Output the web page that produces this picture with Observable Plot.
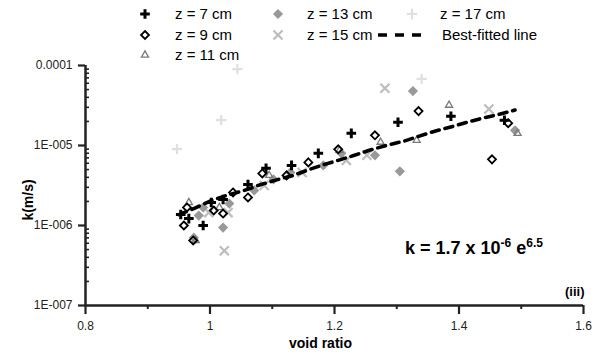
<!DOCTYPE html>
<html><head><meta charset="utf-8">
<script src="https://cdn.jsdelivr.net/npm/d3@7"></script>
<script src="https://cdn.jsdelivr.net/npm/@observablehq/plot@0.6"></script>
<style>
body{margin:0;background:#fff;font-family:"Liberation Sans",Arial,sans-serif;}
#wrap{position:relative;width:599px;height:355px;overflow:hidden}
.abs{position:absolute;white-space:nowrap;color:#000}
.leg{position:absolute;font-size:15px;line-height:15px;white-space:nowrap}
</style></head><body><div id="wrap"></div>
<script>
// ---- data (void ratio e, permeability k in m/s) ----
const seriesNames = ["z = 7 cm","z = 9 cm","z = 11 cm","z = 13 cm","z = 15 cm","z = 17 cm"];
const z7_e  = [0.953,0.966,0.989,1.002,1.021,1.061,1.090,1.131,1.174,1.227,1.302,1.387,1.473];
const z7_k  = [1.37e-6,1.22e-6,1.0e-6,1.94e-6,2.11e-6,3.26e-6,5.18e-6,5.64e-6,7.98e-6,1.42e-5,1.95e-5,2.32e-5,2.07e-5];
const z9_e  = [0.958,0.973,0.963,1.006,1.021,1.037,1.061,1.084,1.123,1.158,1.206,1.265,1.335,1.453,1.479];
const z9_k  = [1.0e-6,6.5e-7,1.68e-6,1.54e-6,1.41e-6,2.59e-6,2.24e-6,4.48e-6,4.23e-6,6.15e-6,8.96e-6,1.34e-5,2.69e-5,6.71e-6,1.9e-5];
const z11_e = [0.966,0.977,1.015,1.095,1.208,1.274,1.332,1.384,1.494];
const z11_k = [1.94e-6,6.5e-7,1.68e-6,4.23e-6,8.71e-6,1.10e-5,1.16e-5,3.19e-5,1.42e-5];
const z13_e = [0.974,0.982,0.989,1.021,1.031,1.071,1.102,1.129,1.182,1.211,1.265,1.305,1.326,1.490];
const z13_k = [7.05e-7,1.33e-6,1.68e-6,9.41e-7,1.88e-6,2.74e-6,3.77e-6,4.61e-6,5.64e-6,7.98e-6,7.54e-6,4.75e-6,4.79e-5,1.55e-5];
const z15_e = [0.998,1.023,1.029,1.087,1.148,1.219,1.252,1.281,1.448];
const z15_k = [1.45e-6,4.84e-7,1.45e-6,3.17e-6,4.61e-6,6.52e-6,7.54e-6,5.2e-5,2.85e-5];
const z17_e = [0.947,1.018,1.044,1.340];
const z17_k = [9.0e-6,2.07e-5,9.0e-5,6.8e-5];
const fit_e = [0.950,0.974,1.002,1.026,1.055,1.082,1.110,1.134,1.160,1.184,1.206,1.232,1.256,1.284,1.311,1.335,1.361,1.385,1.413,1.437,1.465,1.490];
const fit_k = [1.37e-6,1.63e-6,2.05e-6,2.37e-6,2.74e-6,3.26e-6,3.77e-6,4.23e-6,5.03e-6,5.81e-6,6.52e-6,7.54e-6,8.71e-6,1.006e-5,1.13e-5,1.30e-5,1.51e-5,1.69e-5,1.95e-5,2.19e-5,2.46e-5,2.77e-5];
const fitName = "Best-fitted line";
const xTicks = [0.8,1,1.2,1.4,1.6];
const xMinorTicks = [0.9,1.1,1.3,1.5];
const yTicks = [1e-7,1e-6,1e-5,1e-4];
const yTickLabels = ["1E-007","1E-006","1E-005","0.0001"];
const xLabel = "void ratio";
const yLabel = "k(m/s)";
const panelLabel = "(iii)";

// ---- build ----
const pts = (E,K) => E.map((e,i)=>({e, k:K[i]}));
const fit = pts(fit_e, fit_k);
const yMinor = [];
yTicks.slice(0,-1).forEach(d => { for (let m=2;m<=9;m++) yMinor.push(d*m); });

const styles = [
  {symbol:"plus",    stroke:"#000",    fill:"none", r:3.2, sw:3},
  {symbol:"diamond2",stroke:"#000",    fill:"none", r:3.6, sw:1.8},
  {symbol:"triangle2",stroke:"#7a7a7a",fill:"none", r:3.4, sw:1.3},
  {symbol:"diamond2",stroke:"none",    fill:"#999", r:4.6, sw:0},
  {symbol:"times",   stroke:"#bdbdbd", fill:"none", r:4.2, sw:2.2},
  {symbol:"plus",    stroke:"#e0e0e0", fill:"none", r:3.4, sw:2.2}
];
const seriesData = [pts(z7_e,z7_k),pts(z9_e,z9_k),pts(z11_e,z11_k),pts(z13_e,z13_k),pts(z15_e,z15_k),pts(z17_e,z17_k)];
const dotMark = i => Plot.dot(seriesData[i], {x:"e", y:"k", symbol:()=>styles[i].symbol, r:styles[i].r,
  stroke:styles[i].stroke, fill:styles[i].fill, strokeWidth:styles[i].sw});

const plot = Plot.plot({
  width:599, height:355, marginLeft:85, marginRight:16, marginTop:65, marginBottom:50,
  style:{fontFamily:"'Liberation Sans', Arial, sans-serif", fontSize:"12px", color:"#222", background:"transparent", overflow:"visible"},
  x:{domain:[0.8,1.6]},
  y:{type:"log", domain:[1e-7,1e-4]},
  symbol:{type:"identity"},
  marks:[
    Plot.axisX({ticks:xMinorTicks, tickSize:4, tickFormat:()=>"", strokeWidth:2, label:null}),
    Plot.axisX({ticks:xTicks, tickSize:9, tickPadding:7, tickFormat:d=>String(d), strokeWidth:2.2, label:null}),
    Plot.axisY({ticks:yMinor, tickSize:-4, tickFormat:()=>"", strokeWidth:1.6, label:null}),
    Plot.axisY({ticks:yTicks, tickSize:7, tickPadding:6, tickFormat:d=>yTickLabels[yTicks.indexOf(d)], strokeWidth:2.2, label:null}),
    Plot.ruleX([0.8], {strokeWidth:2.5}),
    Plot.ruleY([1e-7], {strokeWidth:2.5}),
    dotMark(5), dotMark(4), dotMark(3), dotMark(2),
    Plot.line(fit, {x:"e", y:"k", stroke:"#000", strokeWidth:3.6, strokeDasharray:"8,6"}),
    dotMark(1), dotMark(0)
  ]
});
const wrap = document.getElementById("wrap");
wrap.appendChild(plot);

function addText(html, css){ const d=document.createElement("div"); d.className="abs"; d.innerHTML=html; Object.assign(d.style, css); wrap.appendChild(d); return d; }
addText(xLabel, {left:"289px", top:"335px", fontSize:"14px", fontWeight:"bold"});
addText(yLabel, {left:"28px", top:"200px", fontSize:"14px", fontWeight:"bold", transform:"translate(-50%,-50%) rotate(-90deg)"});
addText(panelLabel, {left:"565px", top:"284px", fontSize:"13px", fontWeight:"bold"});
addText('k = 1.7 x 10<sup style="font-size:12px;vertical-align:7px">-6</sup> e<sup style="font-size:12px;vertical-align:7px">6.5</sup>',
  {left:"405px", top:"236px", fontSize:"18px", fontWeight:"bold"});

// legend
function legendSymbol(i, cx, cy){
  const s = styles[i];
  const sym = {plus:d3.symbolPlus, diamond2:d3.symbolDiamond2, triangle2:d3.symbolTriangle2, times:d3.symbolTimes}[s.symbol];
  const path = d3.symbol(sym, s.r*s.r*Math.PI)();
  const svg = d3.create("svg").attr("width",20).attr("height",20)
    .style("position","absolute").style("left",(cx-10)+"px").style("top",(cy-10)+"px");
  svg.append("path").attr("d",path).attr("transform","translate(10,10)")
    .attr("fill",s.fill).attr("stroke",s.stroke).attr("stroke-width",s.sw);
  wrap.appendChild(svg.node());
}
const legPos = [[145,14,175],[145,35,175],[145,55,175],[278,14,307],[278,35,307],[412,14,440]];
legPos.forEach(([sx,sy,tx],i)=>{
  legendSymbol(i, sx, sy);
  const d=document.createElement("div"); d.className="leg"; d.textContent=seriesNames[i];
  d.style.left=tx+"px"; d.style.top=(sy-8)+"px"; wrap.appendChild(d);
});
{
  const svg = d3.create("svg").attr("width",52).attr("height",10)
    .style("position","absolute").style("left","377px").style("top","30px");
  svg.append("line").attr("x1",1).attr("x2",51).attr("y1",5).attr("y2",5)
    .attr("stroke","#000").attr("stroke-width",3.6).attr("stroke-dasharray","9,8");
  wrap.appendChild(svg.node());
  const d=document.createElement("div"); d.className="leg"; d.textContent=fitName;
  d.style.left="442px"; d.style.top="27px"; wrap.appendChild(d);
}
</script></body></html>
